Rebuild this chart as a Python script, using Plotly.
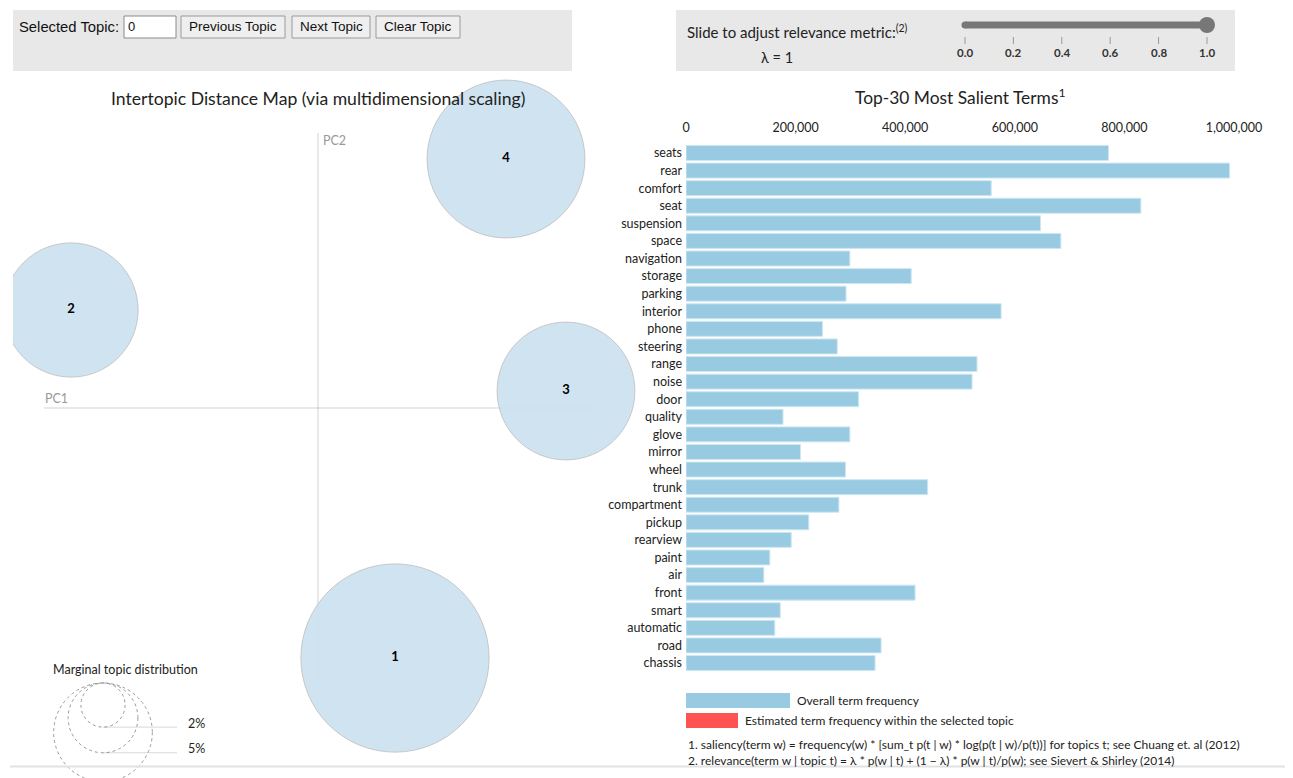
import plotly.graph_objects as go

W, H = 1293, 778

# ---------------- data ----------------
terms = ["seats", "rear", "comfort", "seat", "suspension", "space", "navigation",
         "storage", "parking", "interior", "phone", "steering", "range", "noise",
         "door", "quality", "glove", "mirror", "wheel", "trunk", "compartment",
         "pickup", "rearview", "paint", "air", "front", "smart", "automatic",
         "road", "chassis"]
term_freq = [771000, 992000, 557000, 830000, 647000, 684000, 299000,
             411000, 292000, 575000, 249000, 276000, 531000, 522000,
             315000, 177000, 299000, 209000, 291000, 441000, 279000,
             224000, 192000, 153000, 142000, 418000, 172000, 162000,
             356000, 345000]
bar_ticks = [0, 200000, 400000, 600000, 800000, 1000000]

topic_ids = [1, 2, 3, 4]
topic_pc1 = [0.077, -0.247, 0.248, 0.188]
topic_pc2 = [-0.250, 0.098, 0.017, 0.249]
topic_pct = [36.4, 18.5, 19.5, 25.6]

legend_pcts = [2, 5, 10]
slider_ticks = [0.0, 0.2, 0.4, 0.6, 0.8, 1.0]
lambda_value = 1

# ---------------- helpers ----------------
R_PER_SQRT_PCT = 15.6  # px radius per sqrt(percent)
FONT = "Lato"
UI_FONT = "Liberation Sans"


def px(x):
    return x / W


def py(y):
    return 1 - y / H


shapes = []
annotations = []


def rect(x0, y0, x1, y1, fill, line=None, lw=1, layer="below"):
    shapes.append(dict(type="rect", xref="paper", yref="paper",
                       x0=px(x0), x1=px(x1), y0=py(y1), y1=py(y0),
                       fillcolor=fill,
                       line=dict(color=line or fill, width=lw if line else 0),
                       layer=layer))


def text(x, y, s, size=12, color="#222", xanchor="left", family=FONT):
    annotations.append(dict(xref="paper", yref="paper", x=px(x), y=py(y),
                            text=s, showarrow=False, xanchor=xanchor,
                            yanchor="middle",
                            font=dict(size=size, color=color, family=family)))


fig = go.Figure()

# ---------------- top control boxes ----------------
rect(13, 10, 572, 71, "#e8e8e8")
rect(676, 10, 1235, 71, "#e8e8e8")

text(17, 27, "Selected Topic:", 14.8, "#111", family=UI_FONT)
rect(124, 16, 176, 38, "white", "#8a8a8a", 1, layer="above")
text(126, 27, "0", 13, "#111", family=UI_FONT)
for (x0, x1, label) in [(181, 285, "Previous Topic"), (292, 370, "Next Topic"),
                        (376, 460, "Clear Topic")]:
    rect(x0, 16, x1, 38, "#efefef", "#9a9a9a", 1, layer="above")
    text((x0 + x1) / 2, 27, label, 13.5, "#111", xanchor="center", family=UI_FONT)

text(685, 31, "Slide to adjust relevance metric:<sup>(2)</sup>", 15, "#222")
text(777, 57, "λ = %d" % lambda_value, 14.5, "#222", xanchor="center")

# slider
sl_x0, sl_x1 = 965, 1207
shapes.append(dict(type="line", xref="paper", yref="paper",
                   x0=px(sl_x0), x1=px(sl_x1), y0=py(25), y1=py(25),
                   line=dict(color="#777777", width=7), layer="above"))
shapes.append(dict(type="circle", xref="paper", yref="paper",
                   x0=px(sl_x0 - 3.5), x1=px(sl_x0 + 3.5), y0=py(28.5), y1=py(21.5),
                   fillcolor="#777777", line=dict(width=0), layer="above"))
kx = sl_x0 + (sl_x1 - sl_x0) * lambda_value
shapes.append(dict(type="circle", xref="paper", yref="paper",
                   x0=px(kx - 8), x1=px(kx + 8), y0=py(33), y1=py(17),
                   fillcolor="#777777", line=dict(width=0), layer="above"))
for t in slider_ticks:
    tx = sl_x0 + (sl_x1 - sl_x0) * t
    shapes.append(dict(type="line", xref="paper", yref="paper",
                       x0=px(tx), x1=px(tx), y0=py(37), y1=py(44),
                       line=dict(color="#999999", width=1)))
    text(tx, 53, "<b>%.1f</b>" % t, 11.5, "#333", xanchor="center")

# ---------------- left panel: intertopic distance map ----------------
text(318, 98, "Intertopic Distance Map (via multidimensional scaling)", 17.6, "#222",
     xanchor="center")

fig.add_trace(go.Scatter(
    x=topic_pc1, y=topic_pc2, mode="markers+text",
    text=["<b>%d</b>" % t for t in topic_ids], textposition="middle center",
    textfont=dict(size=13, color="black", family=FONT),
    marker=dict(size=[2 * R_PER_SQRT_PCT * p ** 0.5 for p in topic_pct],
                sizemode="diameter", color="rgb(203,226,239)", opacity=0.92,
                line=dict(color="rgba(190,190,190,0.9)", width=1)),
    xaxis="x", yaxis="y", hoverinfo="skip", showlegend=False, cliponaxis=True))

# PC axis lines
shapes.append(dict(type="line", xref="x", yref="y", x0=-0.274, x1=0.275, y0=0, y1=0,
                   line=dict(color="rgba(128,128,128,0.35)", width=1), layer="below"))
shapes.append(dict(type="line", xref="x", yref="y", x0=0, x1=0, y0=0.275, y1=-0.276,
                   line=dict(color="rgba(128,128,128,0.35)", width=1), layer="below"))
annotations.append(dict(xref="x", yref="y", x=-0.275, y=0.0, text="PC1",
                        showarrow=False, xanchor="left", yanchor="bottom",
                        font=dict(size=12.5, color="#999", family=FONT)))
annotations.append(dict(xref="x", yref="y", x=0.003, y=0.277, text="PC2",
                        showarrow=False, xanchor="left", yanchor="top",
                        font=dict(size=12.5, color="#999", family=FONT)))

# marginal topic distribution legend
text(125, 669, "Marginal topic distribution", 12.5, "#222", xanchor="center")
cx, top, cx2 = 103, 683, 177
for p in legend_pcts:
    r = R_PER_SQRT_PCT * p ** 0.5
    shapes.append(dict(type="circle", xref="paper", yref="paper",
                       x0=px(cx - r), x1=px(cx + r), y0=py(top + 2 * r), y1=py(top),
                       line=dict(color="#999999", width=1, dash="dot")))
    shapes.append(dict(type="line", xref="paper", yref="paper",
                       x0=px(cx), x1=px(cx2), y0=py(top + 2 * r), y1=py(top + 2 * r),
                       line=dict(color="rgba(128,128,128,0.3)", width=1)))
    if top + 2 * r < H - 8:
        text(186, top + 2 * r - 4, "%d%%" % p, 12.5, "#222")

# ---------------- right panel: bar chart ----------------
text(960, 97, "Top-30 Most Salient Terms<sup>1</sup>", 17.4, "#222", xanchor="center")

fig.add_trace(go.Bar(
    x=term_freq, y=terms, orientation="h", xaxis="x2", yaxis="y2",
    marker=dict(color="rgb(152,202,226)", line=dict(color="rgb(205,230,242)", width=1)),
    hoverinfo="skip", showlegend=False))

# legend
rect(686, 693, 790, 708, "rgb(152,202,226)")
text(795, 700, "Overall term frequency", 12, "#222")
rect(686, 713, 738, 728, "rgb(255,82,82)")
text(743, 720, "Estimated term frequency within the selected topic", 12, "#222")
text(686, 744, "1. saliency(term w) = frequency(w) * [sum_t p(t | w) * log(p(t | w)/p(t))] "
     "for topics t; see Chuang et. al (2012)", 12, "#222")
text(686, 760, "2. relevance(term w | topic t) = λ * p(w | t) + (1 − λ) * p(w | t)/p(w); "
     "see Sievert & Shirley (2014)", 12, "#222")

# bottom divider
shapes.append(dict(type="line", xref="paper", yref="paper",
                   x0=px(10), x1=px(1285), y0=py(766.5), y1=py(766.5),
                   line=dict(color="#e2e2e2", width=2)))

bar_top, bar_bot = 144.2, 671.8

fig.update_layout(
    width=W, height=H, margin=dict(l=0, r=0, t=0, b=0, autoexpand=False),
    paper_bgcolor="white", plot_bgcolor="rgba(0,0,0,0)",
    font=dict(family=FONT, color="#222"),
    bargap=0.15,
    shapes=shapes, annotations=annotations,
    xaxis=dict(domain=[px(13), px(640)], range=[-0.305, 0.322], visible=False,
               fixedrange=True, automargin=False),
    yaxis=dict(domain=[0, py(75)], range=[-0.37, 0.333], visible=False,
               fixedrange=True, automargin=False),
    xaxis2=dict(domain=[px(686), px(1234)], range=[0, 1000000], anchor="y2",
                side="top", tickvals=bar_ticks, tickformat=",d", automargin=False,
                showgrid=False, zeroline=False, showline=False, ticks="",
                tickfont=dict(size=12.5, color="#222"), ticklabelstandoff=9),
    yaxis2=dict(domain=[py(bar_bot), py(bar_top)], anchor="x2", type="category",
                categoryorder="array", categoryarray=terms, autorange="reversed",
                showgrid=False, zeroline=False, showline=False, ticks="", automargin=False,
                tickfont=dict(size=12.5, color="#222"), ticklabelstandoff=3),
    showlegend=False,
)

fig.write_html(
    "out.html",
    config={"responsive": False, "displayModeBar": False},
    post_script="document.body.style.margin='0';document.body.style.overflow='hidden';",
)
